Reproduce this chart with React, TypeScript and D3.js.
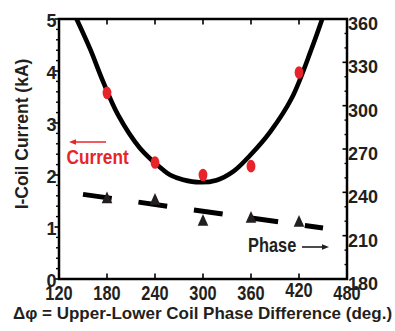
import React from 'react';
import * as d3 from 'd3';

const phaseDiff = [180, 240, 300, 360, 420];
const coilCurrent = [3.58, 2.24, 2.0, 2.17, 3.97];
const coilPhase = [236.4, 235.4, 220.9, 222.9, 220.2];

const fitDeg = [142, 159, 175, 194, 221, 250, 259, 275, 296, 317, 338, 359, 384, 411, 436, 449];
const fitCurrent = [5.0, 4.42, 3.8, 3.15, 2.52, 2.1, 2.0, 1.91, 1.86, 1.9, 2.07, 2.38, 2.83, 3.48, 4.44, 5.0];

const trendDeg = [150, 450];
const trendPhase = [238.6, 215.3];

const xTicks = [120, 180, 240, 300, 360, 420, 480];
const leftTicks = [0, 1, 2, 3, 4, 5];
const rightTicks = [180, 210, 240, 270, 300, 330, 360];

const FONT = '"Liberation Sans", Arial, Helvetica, sans-serif';
const RED = '#e8242b';
const INK = '#231f20';

export default function App() {
  const W = 395, H = 331;
  const L = 59, R = 347, T = 19, B = 279;
  const x = d3.scaleLinear().domain([120, 480]).range([L, R]);
  const yL = d3.scaleLinear().domain([0, 5]).range([B, T]);
  const yR = d3.scaleLinear().domain([180, 360]).range([B, T]);

  const fitPts: [number, number][] = fitDeg.map((d, i) => [d, fitCurrent[i]]);
  const fitPath = d3.line<[number, number]>()
    .x(d => x(d[0])).y(d => yL(d[1]))
    .curve(d3.curveCatmullRom.alpha(0.5))(fitPts) || '';
  const trendPts: [number, number][] = trendDeg.map((d, i) => [d, trendPhase[i]]);
  const trendPath = d3.line<[number, number]>().x(d => x(d[0])).y(d => yR(d[1]))(trendPts) || '';

  const leftMinor = yL.ticks(25).filter(v => Math.abs(v - Math.round(v)) > 1e-6);
  const rightMinor = yR.ticks(18).filter(v => v % 30 !== 0);
  const innerX = xTicks.slice(1, -1);

  return (
    <svg width={W} height={H} style={{ position: 'absolute', left: 0, top: 0, background: '#fff' }}
      fontFamily={FONT} fontWeight="bold">
      <rect x={0} y={0} width={W} height={H} fill="#fff" />
      <defs>
        <clipPath id="plot">
          <rect x={L} y={T} width={R - L} height={B - T} />
        </clipPath>
      </defs>

      {/* fitted curve */}
      <path d={fitPath} fill="none" stroke="#000" strokeWidth={4.6} clipPath="url(#plot)" />
      {/* trend dashed line */}
      <path d={trendPath} fill="none" stroke="#000" strokeWidth={5} strokeDasharray="29 27" />

      {/* current points */}
      {phaseDiff.map((d, i) => (
        <ellipse key={'c' + i} cx={x(d)} cy={yL(coilCurrent[i])} rx={4.4} ry={6.3} fill={RED} />
      ))}
      {/* phase points */}
      {phaseDiff.map((d, i) => {
        const cx = x(d), cy = yR(coilPhase[i]);
        return <path key={'p' + i} d={`M${cx},${cy - 6} L${cx + 5.3},${cy + 5.8} L${cx - 5.3},${cy + 5.8} Z`} fill={INK} />;
      })}

      {/* frame */}
      <rect x={L} y={T} width={R - L} height={B - T} fill="none" stroke="#000" strokeWidth={2.5} />

      {/* top & bottom ticks */}
      {innerX.map(v => (
        <g key={'xt' + v} stroke="#000" strokeWidth={1.6}>
          <line x1={x(v)} x2={x(v)} y1={T} y2={T + 5.5} />
          <line x1={x(v)} x2={x(v)} y1={B} y2={B - 5.5} />
        </g>
      ))}
      {/* left ticks */}
      {leftTicks.map(v => (
        <line key={'lt' + v} x1={L - 4.5} x2={L} y1={yL(v)} y2={yL(v)} stroke="#000" strokeWidth={1.6} />
      ))}
      {leftMinor.map(v => (
        <line key={'lm' + v} x1={L - 3} x2={L} y1={yL(v)} y2={yL(v)} stroke="#000" strokeWidth={1.4} />
      ))}
      {/* right ticks */}
      {rightTicks.map(v => (
        <line key={'rt' + v} x1={R - 4.5} x2={R} y1={yR(v)} y2={yR(v)} stroke="#000" strokeWidth={1.6} />
      ))}
      {rightMinor.map(v => (
        <line key={'rm' + v} x1={R - 2.5} x2={R} y1={yR(v)} y2={yR(v)} stroke="#000" strokeWidth={1.4} />
      ))}

      {/* x tick labels */}
      {xTicks.map(v => (
        <text key={'xl' + v} transform={`translate(${x(v)},${v === 420 ? 297 : 300}) scale(0.84,1)`}
          textAnchor="middle" fontSize={19.5} fill={INK}>{v}</text>
      ))}
      {/* left tick labels */}
      {leftTicks.map(v => (
        <text key={'ll' + v} x={56.5} y={yL(v) + 7.5} textAnchor="end" fontSize={18} fill={INK}>{v}</text>
      ))}
      {/* right tick labels */}
      {rightTicks.map(v => (
        <text key={'rl' + v} x={348} y={yR(v) + 11} textAnchor="start" fontSize={18} fill={INK}>{v}</text>
      ))}

      {/* axis titles */}
      <text transform={`translate(28,134) rotate(-90)`} textAnchor="middle" fontSize={17.5} fill={INK}>I-Coil Current (kA)</text>
      <text x={202.5} y={319} textAnchor="middle" fontSize={17} fill={INK}>Δφ = Upper-Lower Coil Phase Difference (deg.)</text>

      {/* annotations */}
      <line x1={72} x2={106} y1={142} y2={142} stroke={RED} strokeWidth={1.6} />
      <path d="M69,142 L76,139.3 L76,144.7 Z" fill={RED} />
      <text transform="translate(66.5,164) scale(0.82,1)" fontSize={21} fill={RED}>Current</text>

      <text transform="translate(248,252) scale(0.82,1)" fontSize={20} fill={INK}>Phase</text>
      <line x1={302} x2={325} y1={247} y2={247} stroke={INK} strokeWidth={1.6} />
      <path d="M329,247 L322,244.3 L322,249.7 Z" fill={INK} />
    </svg>
  );
}
